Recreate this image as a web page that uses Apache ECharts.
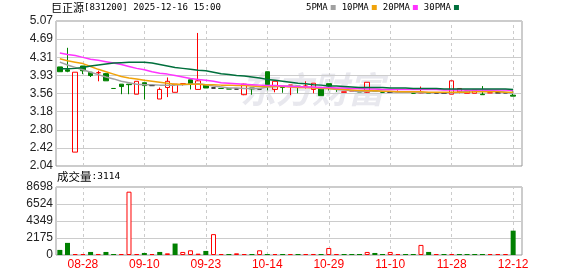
<!DOCTYPE html>
<html><head><meta charset="utf-8">
<script src="https://cdn.jsdelivr.net/npm/echarts@6/dist/echarts.min.js"></script>
<style>html,body{margin:0;padding:0;background:#fff}#c{width:578px;height:276px}</style>
</head><body><div id="c"></div>
<script>
const dates = ['08-25','08-26','08-27','08-28','08-29','09-01','09-02','09-03','09-04','09-05','09-08','09-10','09-11','09-12','09-15','09-16','09-17','09-18','09-22','09-23','09-24','09-25','09-26','09-29','09-30','10-09','10-13','10-14','10-15','10-16','10-17','10-20','10-22','10-24','10-27','10-29','10-30','10-31','11-03','11-04','11-05','11-06','11-07','11-10','11-11','11-12','11-14','11-17','11-19','11-21','11-25','11-28','12-01','12-02','12-03','12-04','12-08','12-09','12-11','12-12'];
const open  = [4.11,4.05,2.33,4.13,4.00,3.99,3.97,3.66,3.75,3.75,3.54,3.78,3.72,3.44,3.68,3.58,3.76,3.84,3.64,3.74,3.67,3.66,3.65,3.65,3.53,3.67,3.65,4.01,3.64,3.70,3.73,3.71,3.71,3.64,3.66,3.76,3.65,3.58,3.61,3.59,3.58,3.61,3.58,3.58,3.59,3.58,3.56,3.57,3.56,3.56,3.56,3.54,3.59,3.56,3.56,3.54,3.57,3.57,3.57,3.52];
const close = [4.01,4.02,4.00,4.03,3.93,3.99,3.82,3.66,3.70,3.74,3.81,3.72,3.72,3.64,3.81,3.75,3.76,3.75,3.82,3.67,3.67,3.66,3.65,3.65,3.75,3.65,3.65,3.74,3.81,3.68,3.73,3.70,3.71,3.77,3.51,3.71,3.64,3.59,3.61,3.59,3.79,3.61,3.58,3.58,3.59,3.58,3.56,3.57,3.56,3.56,3.56,3.82,3.66,3.61,3.63,3.53,3.57,3.57,3.57,3.50];
const low   = [4.01,4.00,2.33,3.96,3.90,3.81,3.82,3.66,3.54,3.54,3.54,3.43,3.72,3.44,3.48,3.58,3.72,3.64,3.64,3.67,3.67,3.66,3.65,3.65,3.52,3.53,3.65,3.62,3.58,3.57,3.52,3.56,3.66,3.56,3.51,3.62,3.59,3.58,3.61,3.59,3.57,3.61,3.58,3.58,3.58,3.58,3.56,3.56,3.56,3.56,3.56,3.54,3.56,3.56,3.56,3.53,3.57,3.57,3.57,3.50];
const high  = [4.11,4.51,4.00,4.13,4.00,4.03,3.98,3.66,3.75,3.75,3.81,3.78,3.72,3.68,3.89,3.75,3.76,3.84,4.82,3.74,3.67,3.66,3.65,3.65,3.76,3.67,3.65,4.01,3.81,3.70,3.73,3.71,3.81,3.77,3.66,3.76,3.65,3.59,3.61,3.59,3.79,3.61,3.58,3.58,3.62,3.58,3.56,3.70,3.56,3.56,3.56,3.82,3.66,3.61,3.63,3.71,3.57,3.57,3.57,3.60];
const ma5  = [4.21,4.15,4.10,4.05,4.00,3.95,3.90,3.86,3.81,3.78,3.75,3.74,3.74,3.73,3.73,3.73,3.74,3.75,3.76,3.74,3.71,3.69,3.67,3.67,3.66,3.66,3.66,3.69,3.70,3.71,3.71,3.70,3.69,3.68,3.66,3.66,3.64,3.63,3.61,3.59,3.60,3.61,3.60,3.59,3.58,3.58,3.58,3.57,3.57,3.57,3.57,3.57,3.58,3.60,3.63,3.63,3.62,3.60,3.58,3.56];
const ma10 = [4.28,4.24,4.21,4.18,4.12,4.06,4.01,3.96,3.91,3.88,3.86,3.83,3.81,3.79,3.77,3.75,3.75,3.75,3.75,3.74,3.74,3.73,3.73,3.72,3.72,3.71,3.70,3.70,3.70,3.70,3.69,3.68,3.68,3.67,3.67,3.66,3.65,3.64,3.63,3.62,3.61,3.61,3.60,3.60,3.59,3.59,3.59,3.59,3.58,3.58,3.58,3.58,3.58,3.58,3.59,3.59,3.59,3.59,3.58,3.58];
const ma20 = [4.40,4.37,4.35,4.31,4.27,4.25,4.22,4.19,4.16,4.12,4.08,4.05,4.01,3.98,3.96,3.93,3.90,3.87,3.85,3.83,3.81,3.78,3.77,3.76,3.75,3.74,3.73,3.72,3.72,3.71,3.70,3.70,3.69,3.69,3.68,3.68,3.67,3.67,3.66,3.66,3.65,3.65,3.64,3.64,3.64,3.64,3.64,3.64,3.64,3.64,3.63,3.63,3.63,3.63,3.63,3.63,3.63,3.63,3.63,3.62];
const ma30 = [4.07,4.07,4.08,4.10,4.13,4.15,4.17,4.19,4.20,4.21,4.21,4.21,4.19,4.16,4.13,4.10,4.08,4.06,4.04,4.03,4.00,3.97,3.95,3.93,3.92,3.90,3.88,3.85,3.83,3.81,3.79,3.77,3.76,3.74,3.73,3.71,3.71,3.70,3.69,3.68,3.68,3.68,3.68,3.67,3.67,3.67,3.66,3.66,3.66,3.66,3.65,3.65,3.65,3.65,3.65,3.65,3.65,3.65,3.65,3.64];
const volume = [650,1550,100,100,390,130,390,100,100,8100,100,260,100,390,215,1465,390,600,170,520,2670,100,130,215,100,100,600,100,100,100,100,100,100,130,100,900,100,100,100,100,390,260,100,390,100,100,100,1290,390,100,100,100,100,100,100,100,100,100,100,3114];
const volRise = [0,0,1,1,0,1,0,0,1,1,1,0,1,0,1,0,1,1,1,0,1,1,0,1,1,0,1,0,1,0,1,0,1,1,0,1,1,0,0,0,1,0,0,1,1,0,0,1,0,1,0,1,0,0,0,0,1,1,1,0];
const priceTicks = ['2.04','2.42','2.80','3.18','3.56','3.93','4.31','4.69','5.07'];
const volTicks = ['0','2175','4349','6524','8698'];
const maNames = ['5PMA','10PMA','20PMA','30PMA'];
const titleText = '巨正源';
const titleInfo = '[831200] 2025-12-16 15:00';

const RED = '#ff0000', GREEN = '#008000', BLACK = '#000000';
const PMIN = 2.04, PMAX = 5.07, PSTEP = (PMAX - PMIN) / 8;
const VMAX = 8698, VSTEP = VMAX / 4;

const candleData = open.map((o, i) => {
  const c = close[i];
  const item = { value: [o, c, low[i], high[i]] };
  if (o === c) {
    const prev = i > 0 ? close[i - 1] : c;
    const col = c > prev ? RED : (c < prev ? GREEN : BLACK);
    item.itemStyle = { color: col, color0: col, borderColor: col, borderColor0: col, borderColorDoji: col };
  }
  return item;
});
const volData = volume.map((v, i) => ({
  value: v,
  itemStyle: volRise[i] ? { color: '#ffffff', borderColor: RED, borderWidth: 1 } : { color: GREEN, borderWidth: 0 }
}));

const showIdx = (idx) => idx % 8 === 3;
const tickStyle = (len) => ({ show: true, inside: true, length: len, alignWithLabel: true, interval: showIdx, lineStyle: { color: '#cccccc', type: [3, 3], width: 1 } });
const yLab = { color: '#222', fontFamily: 'Liberation Sans', fontSize: 12, margin: 3 };
const maColors = ['#a0a0a0', '#f0a30a', '#ff33ff', '#006f3c'];
const maData = [ma5, ma10, ma20, ma30];
const txtA = (size) => ({ fontFamily: 'Noto Sans CJK SC', fontSize: size, fontWeight: 'normal', color: '#000' });
const txtB = (size) => ({ fontFamily: 'DejaVu Sans Mono', fontSize: size, fontWeight: 'normal', color: '#000' });

const chart = echarts.init(document.getElementById('c'), null, { renderer: 'canvas' });
chart.setOption({
  animation: false,
  backgroundColor: '#fff',
  title: [
    { text: '{a|' + titleText + '}{b|' + titleInfo + '}', left: 51, top: 2, padding: 0,
      textStyle: { fontWeight: 'normal', rich: { a: txtA(11), b: txtB(9.1) } } },
    { text: '{a|成交量}{b|:' + volume[volume.length - 1] + '}', left: 57, top: 171, padding: 0,
      textStyle: { fontWeight: 'normal', rich: { a: txtA(11.5), b: txtB(9.5) } } }
  ],
  legend: {
    data: maNames, left: 306, top: 3, padding: 0, align: 'right', icon: 'rect', itemWidth: 5, itemHeight: 5, itemGap: 6,
    selectedMode: false, textStyle: { fontFamily: 'DejaVu Sans Mono', fontSize: 9, color: '#000', padding: [0, -2, 0, 0] }
  },
  graphic: [{ type: 'text', left: 240, top: 71, z: 0, silent: true,
    style: { text: '东方财富', font: 'italic bold 36px "Noto Sans CJK SC"', fill: '#e8e8ee' } }],
  grid: [
    { left: 56, top: 21, width: 466, height: 145, show: true, borderColor: '#999', borderWidth: 1, backgroundColor: 'transparent' },
    { left: 56, top: 21, width: 461, height: 145 },
    { left: 56, top: 187, width: 466, height: 68, show: true, borderColor: '#999', borderWidth: 1, backgroundColor: 'transparent' },
    { left: 56, top: 187, width: 461, height: 68 }
  ],
  xAxis: [
    { gridIndex: 0, type: 'value', min: 0, max: 1, show: false },
    { gridIndex: 1, type: 'category', data: dates, boundaryGap: true, axisLine: { show: false }, axisLabel: { show: false }, axisTick: tickStyle(145), splitLine: { show: false } },
    { gridIndex: 2, type: 'value', min: 0, max: 1, show: false },
    { gridIndex: 3, type: 'category', data: dates, boundaryGap: true, axisLine: { show: false },
      axisLabel: { show: true, interval: showIdx, color: RED, fontFamily: 'Liberation Sans', fontSize: 12, margin: 4 },
      axisTick: tickStyle(68), splitLine: { show: false } }
  ],
  yAxis: [
    { gridIndex: 0, type: 'value', min: PMIN, max: PMAX, interval: PSTEP, axisLine: { show: false }, axisTick: { show: false },
      axisLabel: Object.assign({ formatter: (v) => priceTicks[Math.round((v - PMIN) / PSTEP)] }, yLab),
      splitLine: { show: true, lineStyle: { color: '#cccccc', width: 1 } } },
    { gridIndex: 1, type: 'value', min: PMIN, max: PMAX, show: false, splitLine: { show: false } },
    { gridIndex: 2, type: 'value', min: 0, max: VMAX, interval: VSTEP, axisLine: { show: false }, axisTick: { show: false },
      axisLabel: Object.assign({ formatter: (v) => volTicks[Math.round(v / VSTEP)] }, yLab),
      splitLine: { show: true, lineStyle: { color: '#cccccc', width: 1 } } },
    { gridIndex: 3, type: 'value', min: 0, max: VMAX, show: false, splitLine: { show: false } }
  ],
  series: [
    { type: 'candlestick', name: 'K', xAxisIndex: 1, yAxisIndex: 1, barWidth: 5, z: 3, data: candleData,
      itemStyle: { color: 'transparent', color0: GREEN, borderColor: RED, borderColor0: GREEN, borderColorDoji: BLACK, borderWidth: 1 } },
    ...maNames.map((n, k) => ({ type: 'line', name: n, xAxisIndex: 1, yAxisIndex: 1, data: maData[k], symbol: 'none', z: 4,
      lineStyle: { color: maColors[k], width: 1.5 }, itemStyle: { color: maColors[k] } })),
    { type: 'bar', name: 'VOL', xAxisIndex: 3, yAxisIndex: 3, barWidth: 5, barMinHeight: 1, data: volData, z: 3 }
  ]
});
</script></body></html>
